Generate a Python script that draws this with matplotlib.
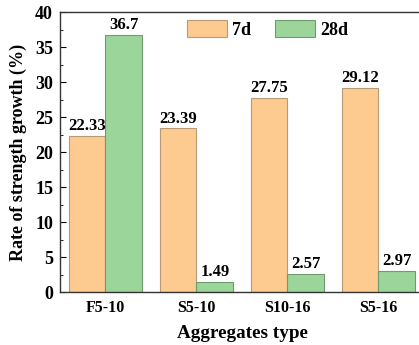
import numpy as np
import matplotlib.pyplot as plt
from matplotlib.ticker import MultipleLocator

plt.rcParams['font.family'] = ['Liberation Serif', 'DejaVu Serif']
plt.rcParams['font.weight'] = 'bold'

types = ['F5-10', 'S5-10', 'S10-16', 'S5-16']
growth_7d = [22.33, 23.39, 27.75, 29.12]
growth_28d = [36.7, 1.49, 2.57, 2.97]
labels_7d = ['22.33', '23.39', '27.75', '29.12']
labels_28d = ['36.7', '1.49', '2.57', '2.97']

fig = plt.figure(figsize=(4.19, 3.45), dpi=100)
ax = fig.add_axes([0.1432, 0.1536, 0.8687, 0.8116])

x = np.arange(len(types))
w = 0.405
ax.bar(x - w/2, growth_7d, w, color='#fdca90', edgecolor='#b89a78', lw=0.8, label='7d')
ax.bar(x + w/2, growth_28d, w, color='#9bd59a', edgecolor='#6f9c6f', lw=0.8, label='28d')

# value labels on top of each bar
for xi, v, s in zip(x - w/2, growth_7d, labels_7d):
    ax.text(xi, v + 0.25, s, ha='center', va='bottom', fontsize=12, fontweight='bold')
for xi, v, s in zip(x + w/2, growth_28d, labels_28d):
    ax.text(xi, v + 0.25, s, ha='center', va='bottom', fontsize=12, fontweight='bold')

ax.set_xlim(-0.5, 3.5)
ax.set_ylim(0, 40)
ax.set_xticks(x)
ax.set_xticklabels(types, fontsize=11.5, fontweight='bold')
ax.yaxis.set_major_locator(MultipleLocator(5))
ax.yaxis.set_minor_locator(MultipleLocator(2.5))
ax.tick_params(axis='y', which='major', direction='in', length=4, width=0.8, pad=5, labelsize=13)
ax.tick_params(axis='y', which='minor', direction='in', length=2, width=0.6)
ax.tick_params(axis='x', length=0, pad=6)
for sp in ax.spines.values():
    sp.set_linewidth(1.0)
    sp.set_color('#333333')

ax.set_xlabel('Aggregates type', fontsize=13.8, fontweight='bold', labelpad=6)
ax.set_ylabel('Rate of strength growth (%)', fontsize=13, fontweight='bold', labelpad=6)

ax.legend(loc='upper left', bbox_to_anchor=(0.32, 1.01), ncol=2, frameon=False,
          fontsize=13, handlelength=2.2, handleheight=1.1, handletextpad=0.3,
          columnspacing=1.3, borderaxespad=0.2)

fig.savefig('out.png', dpi=100)
